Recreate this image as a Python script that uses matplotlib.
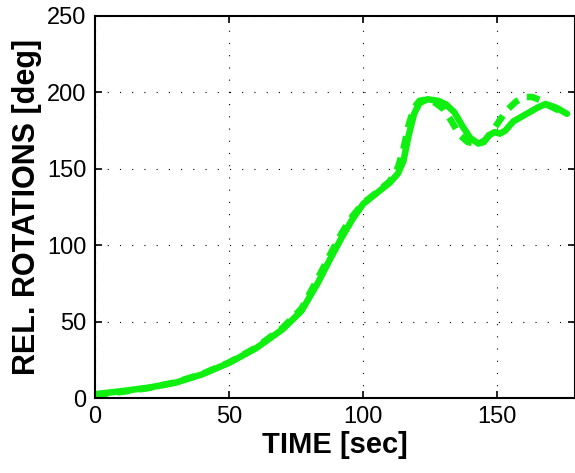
import matplotlib
matplotlib.use("Agg")
import matplotlib.pyplot as plt

plt.rcParams['font.family'] = ['Liberation Sans', 'DejaVu Sans']

# ========== data ==========
t_solid = [0, 5, 10, 20, 30, 40, 50, 60, 70, 77, 83, 88, 92, 96, 100, 105, 110,
           113, 115, 117, 119, 121, 124, 128, 131, 134, 137, 140, 143, 145, 147,
           149, 151, 153, 156, 159, 162, 165, 168, 172, 176]
rot_solid = [2.5, 3.5, 4.5, 6.8, 10, 15.5, 23, 32.5, 45, 57, 75, 92, 105, 117,
             127, 134, 141, 147, 155, 172, 186, 193, 195.5, 194.5, 192, 187, 178,
             170, 166.5, 167.5, 172, 174, 173, 175, 181, 184, 187, 190, 192.4,
             190, 186]

t_dash = [0, 5, 10, 20, 30, 40, 50, 60, 70, 77, 83, 88, 92, 96, 100, 105, 110,
          113, 115, 117, 119, 121, 124, 127, 130, 133, 136, 139, 142, 145, 148,
          151, 154, 157, 160, 163, 166, 169, 172, 176]
rot_dash = [2, 3, 4, 6.5, 10.3, 15.8, 23.3, 33, 46, 58.5, 78, 95, 108, 119, 127.5,
            134.5, 142, 151, 163, 179, 190, 194.5, 195.5, 193, 189, 181, 172, 167.5,
            166.5, 168, 174, 182, 189, 194, 197, 197, 195, 191.5, 189, 186]

x_ticks = [0, 50, 100, 150]
y_ticks = [0, 50, 100, 150, 200, 250]

green = '#10f010'

fig = plt.figure(figsize=(5.75, 4.73), dpi=100)
ax = fig.add_axes([95 / 575, 75 / 473, 1 - 95 / 575, 382 / 473])

ax.plot(t_solid, rot_solid, color=green, lw=4.7, solid_joinstyle='round',
        solid_capstyle='round')
ax.plot(t_dash, rot_dash, color=green, lw=4.7, linestyle=(0, (2.0, 1.4)),
        dash_capstyle='butt')

ax.set_xlim(0, 179)
ax.set_ylim(0, 250)
ax.set_xticks(x_ticks)
ax.set_yticks(y_ticks)
ax.tick_params(direction='in', top=True, right=True, labelsize=17, length=5,
               width=1.2, pad=6)
ax.grid(True, color='black', linestyle=(0, (1, 10)), linewidth=0.8)
for s in ax.spines.values():
    s.set_linewidth(1.5)

ax.set_xlabel('TIME [sec]', fontsize=21, fontweight='bold', labelpad=2)
ax.set_ylabel('REL. ROTATIONS [deg]', fontsize=22, fontweight='bold', labelpad=4)

fig.savefig('out.png', dpi=100)
